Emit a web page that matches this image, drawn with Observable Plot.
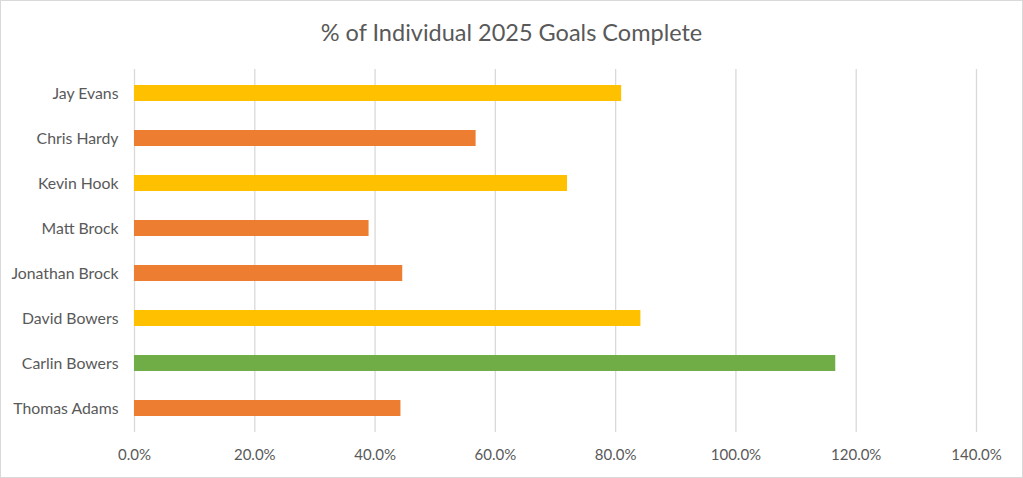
<!DOCTYPE html>
<html>
<head>
<meta charset="utf-8">
<script src="https://cdn.jsdelivr.net/npm/d3@7"></script>
<script src="https://cdn.jsdelivr.net/npm/@observablehq/plot@0.6"></script>
<style>
  html, body { margin: 0; padding: 0; background: #fff; }
  #frame { position: relative; width: 1023px; height: 478px; overflow: hidden; background: #fff; font-family: Lato, "Open Sans", sans-serif; }
  #border { position: absolute; left: 0; top: 0; width: 1021px; height: 476px; border: 1px solid #d9d9d9; pointer-events: none; }
  #title { position: absolute; left: 0; top: 0; width: 1023px; height: 62px; line-height: 64px; text-align: center; font-size: 23.5px; color: #595959; }
  #chart { position: absolute; left: 0; top: 62px; }
</style>
</head>
<body>
<div id="frame">
  <div id="title">% of Individual 2025 Goals Complete</div>
  <div id="chart"></div>
  <div id="border"></div>
</div>
<script>
const names = ["Jay Evans", "Chris Hardy", "Kevin Hook", "Matt Brock", "Jonathan Brock", "David Bowers", "Carlin Bowers", "Thomas Adams"];
const values = [0.810, 0.568, 0.720, 0.390, 0.446, 0.842, 1.166, 0.443];
const xTicks = [0, 0.2, 0.4, 0.6, 0.8, 1.0, 1.2, 1.4];
const statusLabels = ["Below 60%", "60–100%", "100%+"];
const statusColors = ["#ED7D31", "#FFC000", "#70AD47"];

const data = names.map((name, i) => ({
  name,
  value: values[i],
  status: values[i] >= 1 ? statusLabels[2] : values[i] >= 0.6 ? statusLabels[1] : statusLabels[0]
}));

const chart = Plot.plot({
  width: 1023,
  height: 416,
  marginTop: 7,
  marginBottom: 46,
  marginLeft: 134,
  marginRight: 47,
  style: { fontFamily: "Lato, 'Open Sans', sans-serif", fontSize: "15px", color: "#595959", background: "transparent" },
  x: { domain: [0, 1.4], ticks: xTicks, tickFormat: d3.format(".1%"), tickSize: 0, tickPadding: 17, label: null },
  y: { domain: names, paddingInner: 0.65, paddingOuter: 0.325, tickSize: 0, tickPadding: 16, label: null },
  color: { domain: statusLabels, range: statusColors },
  marks: [
    Plot.ruleX(xTicks, { stroke: "#d9d9d9", strokeWidth: 1.3 }),
    Plot.barX(data, { x: "value", y: "name", fill: "status" }),
    Plot.axisX({ ticks: xTicks, tickFormat: d3.format(".1%"), tickSize: 0, tickPadding: 17, fill: "#595959", fontSize: 15, label: null }),
    Plot.axisY({ tickSize: 0, tickPadding: 16, fill: "#595959", fontSize: 15.8, label: null })
  ]
});
document.getElementById("chart").appendChild(chart);
</script>
</body>
</html>
